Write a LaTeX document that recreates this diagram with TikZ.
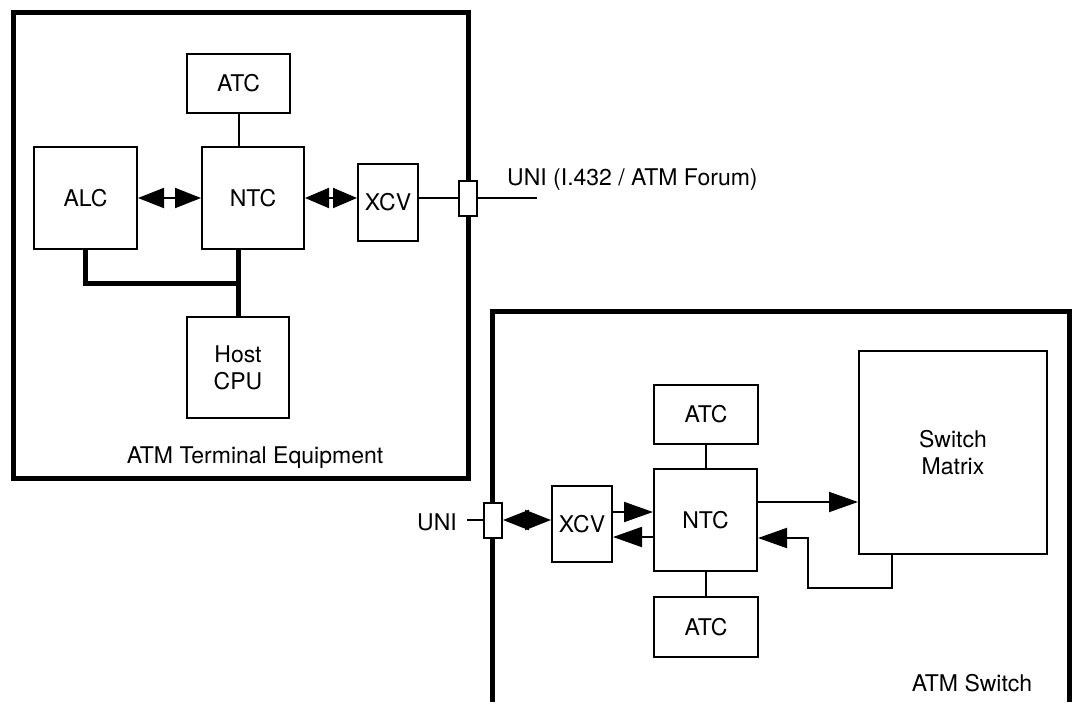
\documentclass[tikz,border=0pt]{standalone}
\usepackage{fontspec}
\setmainfont{TeX Gyre Heros}
\usetikzlibrary{arrows.meta}

\begin{document}
\begin{tikzpicture}[
  x=1pt,
  y=-1pt,
  font=\fontsize{23}{27}\selectfont,
  frame/.style={line width=5pt, line join=miter},
  unit box/.style={
    draw,
    line width=2pt,
    fill=white,
    align=center,
    inner sep=0pt
  },
  port box/.style={unit box, minimum width=18pt, minimum height=35pt},
  wire/.style={line width=2pt},
  bus line/.style={line width=5pt},
  signal/.style={wire, -{Triangle[length=29pt,width=20pt]}},
  both ways/.style={wire, {Triangle[length=26pt,width=20pt]}-{Triangle[length=26pt,width=20pt]}},
  short both ways/.style={wire, {Triangle[length=24pt,width=20pt]}-{Triangle[length=24pt,width=20pt]}}
]
  \useasboundingbox (0,0) rectangle (1077,702);

  % ATM terminal equipment
  \draw[frame] (13,12) rectangle (468,478);
  \node[unit box, minimum width=103pt, minimum height=59pt] (atcTop) at (238.5,83.5) {ATC};
  \node[unit box, minimum width=103pt, minimum height=102pt] (alc) at (85.5,198) {ALC};
  \node[unit box, minimum width=102pt, minimum height=102pt] (ntcTerm) at (253,198) {NTC};
  \node[unit box, minimum width=60pt, minimum height=77pt] (xcvTerm) at (388,202.5) {XCV};
  \node[unit box, minimum width=102pt, minimum height=101pt] (hostCpu) at (238,367.5) {Host\\CPU};
  \node[port box] (uniTerm) at (467.5,198) {};
  \coordinate (uniTermEnd) at (537,198);
  \coordinate (busLevel) at (0,283);
  \node[anchor=base west, inner sep=0pt] (uniTermLabel) at (507,185) {UNI (I.432 / ATM Forum)};
  \node[anchor=base, inner sep=0pt] (termTitle) at (255,463) {ATM Terminal Equipment};

  \draw[wire] (atcTop.south) -- (atcTop.south |- ntcTerm.north);
  \draw[both ways] (alc.east) -- (ntcTerm.west);
  \draw[short both ways] (ntcTerm.east) -- (ntcTerm.east -| xcvTerm.west);
  \draw[wire] (xcvTerm.east |- uniTerm.west) -- (uniTerm.west);
  \draw[wire] (uniTerm.east) -- (uniTermEnd);
  \draw[bus line] (alc.south) |- (hostCpu.north |- busLevel);
  \draw[bus line] (hostCpu.north |- ntcTerm.south) -- (hostCpu.north);

  % ATM switch
  \draw[frame] (492,702) |- (1069,311) -- (1069,702);
  \node[unit box, minimum width=188pt, minimum height=203pt] (switchMatrix) at (953,452.5) {Switch\\Matrix};
  \node[unit box, minimum width=104pt, minimum height=59pt] (atcUpper) at (706,414.5) {ATC};
  \node[unit box, minimum width=103pt, minimum height=102pt] (ntcSwitch) at (705.5,520) {NTC};
  \node[unit box, minimum width=104pt, minimum height=60pt] (atcLower) at (706,627) {ATC};
  \node[unit box, minimum width=60pt, minimum height=76pt] (xcvSwitch) at (582,524) {XCV};
  \node[port box] (uniSwitch) at (493,520) {};
  \node[anchor=east, inner sep=0pt] (uniSwitchLabel) at (457,522) {UNI};
  \node[anchor=base, inner sep=0pt] (switchTitle) at (972,691) {ATM Switch};

  \draw[wire] ([xshift=10pt]uniSwitchLabel.east |- uniSwitch.west) -- (uniSwitch.west);
  \draw[both ways] (uniSwitch.east) -- (uniSwitch.east -| xcvSwitch.west);
  \draw[wire] (atcUpper.south) -- (atcUpper.south |- ntcSwitch.north);
  \draw[wire] (atcLower.north) -- (atcLower.north |- ntcSwitch.south);
  \draw[signal] (xcvSwitch.east |- 0,512) -- (ntcSwitch.west |- 0,512);
  \draw[signal] (ntcSwitch.west |- 0,537) -- (xcvSwitch.east |- 0,537);
  \draw[signal] (ntcSwitch.east |- 0,502) -- (switchMatrix.west |- 0,502);
  \draw[signal] (switchMatrix.south -| 892,0) |- (808,588) |- (ntcSwitch.east |- 0,538);
\end{tikzpicture}
\end{document}
